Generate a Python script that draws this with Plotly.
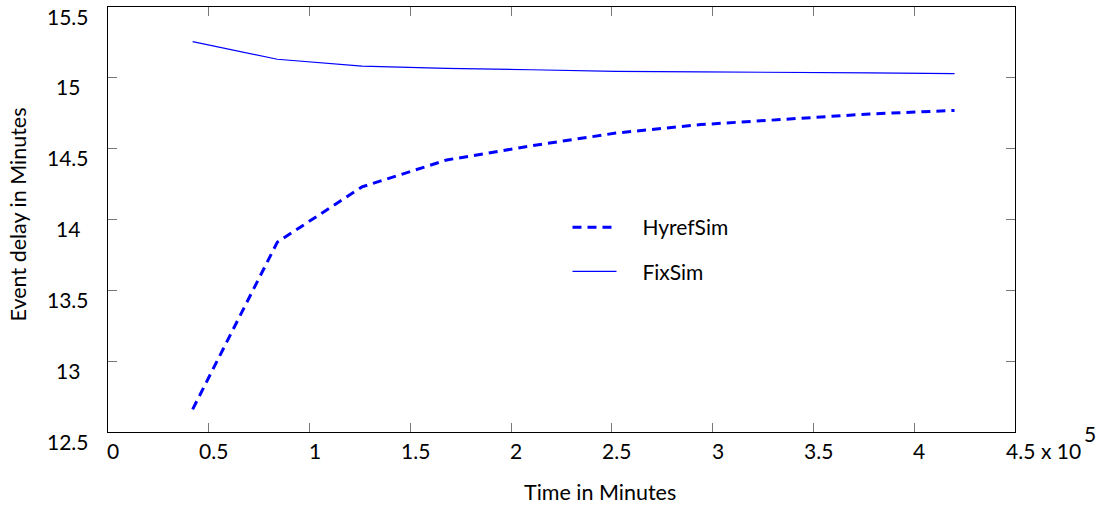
import plotly.graph_objects as go

# Simulation time (minutes) and mean event delay for the two schedulers
time_min = [0.42e5, 0.84e5, 1.26e5, 1.68e5, 2.10e5, 2.52e5, 2.94e5, 3.36e5, 3.78e5, 4.20e5]
hyref_delay = [12.66, 13.84, 14.23, 14.42, 14.52, 14.61, 14.67, 14.71, 14.745, 14.77]
fix_delay = [15.255, 15.131, 15.083, 15.067, 15.057, 15.046, 15.042, 15.040, 15.035, 15.030]

x_ticks = [0, 0.5e5, 1e5, 1.5e5, 2e5, 2.5e5, 3e5, 3.5e5, 4e5, 4.5e5]
x_tick_text = ["0", "0.5", "1", "1.5", "2", "2.5", "3", "3.5", "4", "4.5"]
y_ticks = [12.5, 13, 13.5, 14, 14.5, 15, 15.5]
y_tick_text = ["12.5", "13", "13.5", "14", "14.5", "15", "15.5"]

FONT = "Lato, Open Sans, sans-serif"
TICK_FONT = dict(family=FONT, size=21, color="black")
TITLE_FONT = dict(family=FONT, size=21.5, color="black")
GAP = "\u2002\u2002"  # extra space between legend key and label

fig = go.Figure()
fig.add_trace(go.Scatter(
    x=time_min, y=hyref_delay, mode="lines", name=GAP + "HyrefSim",
    line=dict(color="#0000ff", width=3, dash="9px,6px"),
    legendgroup="a",
))
fig.add_trace(go.Scatter(
    x=time_min, y=fix_delay, mode="lines", name=GAP + "FixSim",
    line=dict(color="#0000ff", width=1.2),
    legendgroup="b",
))

annotations = []
# y tick labels, centred left of the axis and dropped slightly below the tick
for v, t in zip(y_ticks, y_tick_text):
    annotations.append(dict(
        x=0, xref="paper", y=v, yref="y", text=t, showarrow=False,
        xanchor="center", yanchor="middle", xshift=-40, yshift=-9,
        font=TICK_FONT,
    ))
# x tick labels
for v, t in zip(x_ticks, x_tick_text):
    annotations.append(dict(
        x=v, xref="x", y=0, yref="paper", text=t, showarrow=False,
        xanchor="center", yanchor="middle", xshift=5, yshift=-18,
        font=TICK_FONT,
    ))
# exponent for the x axis
annotations.append(dict(
    x=1, xref="paper", y=0, yref="paper", text="x 10", showarrow=False,
    xanchor="left", yanchor="middle", xshift=24, yshift=-18, font=TICK_FONT,
))
annotations.append(dict(
    x=1, xref="paper", y=0, yref="paper", text="5", showarrow=False,
    xanchor="left", yanchor="middle", xshift=67, yshift=-1, font=TICK_FONT,
))
# axis titles
annotations.append(dict(
    x=0.5, xref="paper", y=0, yref="paper", text="Time in Minutes", showarrow=False,
    xanchor="center", yanchor="middle", yshift=-60, xshift=38,
    font=TITLE_FONT,
))
annotations.append(dict(
    x=0, xref="paper", y=0.5, yref="paper", text="Event delay in Minutes", showarrow=False,
    xanchor="center", yanchor="middle", xshift=-91, yshift=5, textangle=-90,
    font=TITLE_FONT,
))

axis_common = dict(
    showgrid=False, zeroline=False, showline=True, linecolor="black", linewidth=1.3,
    mirror="ticks", ticks="inside", ticklen=9, tickwidth=1.2, tickcolor="#777777",
    showticklabels=False,
)

fig.update_layout(
    width=1102, height=505,
    margin=dict(l=108, r=87, t=7, b=73),
    paper_bgcolor="white", plot_bgcolor="white",
    xaxis=dict(range=[0, 4.5e5], tickvals=x_ticks, **axis_common),
    yaxis=dict(range=[12.5, 15.5], tickvals=y_ticks, **axis_common),
    annotations=annotations,
    showlegend=True,
    legend=dict(
        x=0.5066, y=0.4294, xref="paper", yref="paper", xanchor="left", yanchor="middle",
        font=dict(family=FONT, size=21, color="black"),
        bgcolor="rgba(0,0,0,0)", itemwidth=44, tracegroupgap=14,
    ),
)

fig.write_html("out.html")
